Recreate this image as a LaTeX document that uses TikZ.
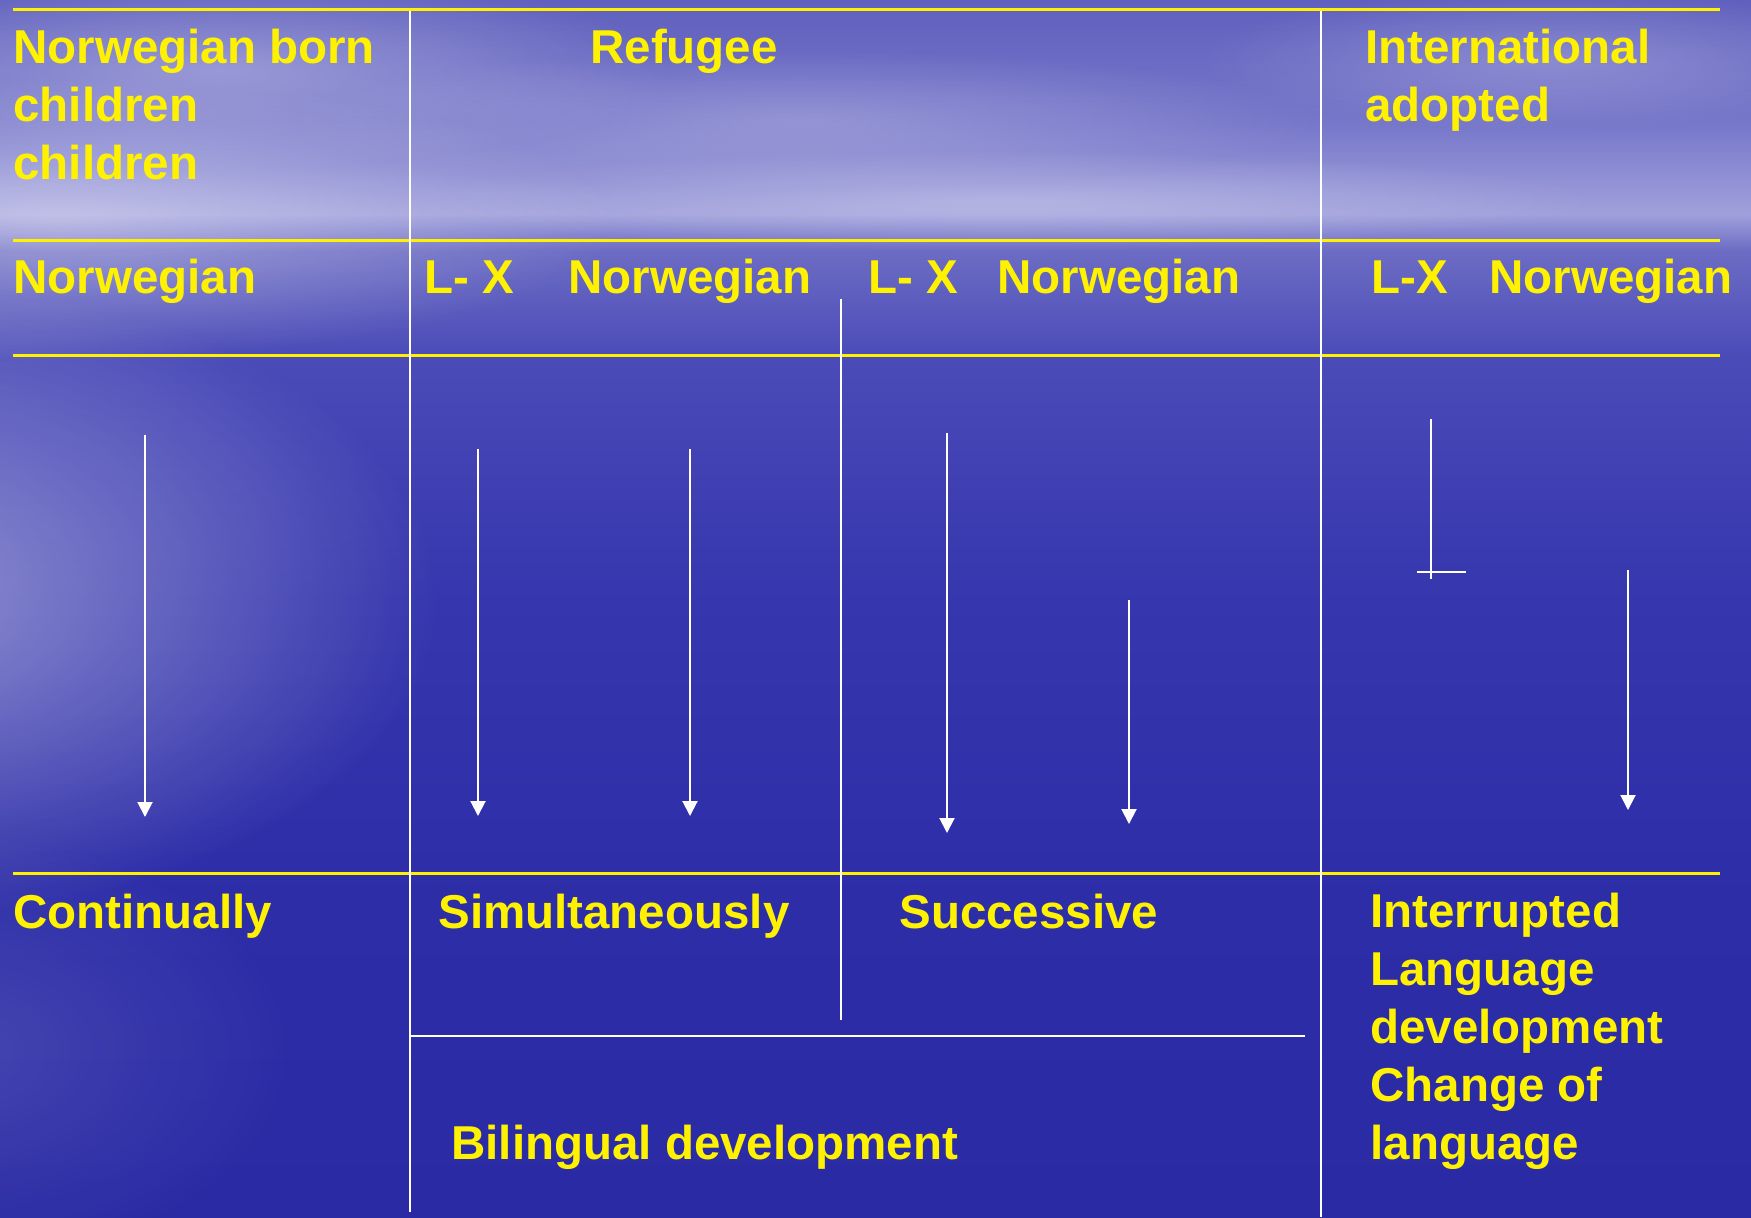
\documentclass[tikz,border=0pt]{standalone}
\usepackage{fontspec}
\setmainfont{Liberation Sans}
\usetikzlibrary{arrows.meta,fadings}
\definecolor{ctop}{RGB}{96,96,190}
\definecolor{c120}{RGB}{118,118,202}
\definecolor{haze}{RGB}{160,160,220}
\definecolor{c250}{RGB}{108,108,196}
\definecolor{c360}{RGB}{74,74,184}
\definecolor{c600}{RGB}{54,54,174}
\definecolor{c900}{RGB}{45,45,168}
\definecolor{deep}{RGB}{42,42,164}
\pgfdeclareverticalshading{sky}{100bp}{color(0bp)=(deep); color(25bp)=(deep); color(38bp)=(c900); color(50.35bp)=(c600); color(60.2bp)=(c360); color(64.7bp)=(c250); color(66.2bp)=(haze); color(70bp)=(c120); color(75bp)=(ctop); color(100bp)=(ctop)}
\tikzfading[name=softglow, inner color=transparent!0, outer color=transparent!100]
\tikzset{
  ylw/.style={draw=yellow, line width=1.5pt},
  wl/.style={draw=white, line width=1pt},
  arr/.style={wl, -{Triangle[width=7.5pt,length=7.5pt]}},
  lab/.style={text=yellow, font=\bfseries\fontsize{23.75}{29}\selectfont, inner sep=0pt, anchor=base west, align=left},
  glow/.style={fill=white, path fading=softglow}
}
\begin{document}
\begin{tikzpicture}[x=0.5pt,y=-0.5pt]
\useasboundingbox (0,0) rectangle (1751,1217);
% background
\fill[shading=sky] (0,0) rectangle (1751,1217);
\begin{scope}
\clip (0,0) rectangle (1751,1217);
\fill[glow, opacity=0.45] (-120,600) ellipse (560 and 320);
\fill[glow, opacity=0.35] (60,220) ellipse (560 and 140);
\fill[glow, opacity=0.30] (220,70) ellipse (450 and 100);
\fill[glow, opacity=0.22] (800,120) ellipse (520 and 70);
\fill[glow, opacity=0.25] (1000,200) ellipse (600 and 50);
\fill[glow, opacity=0.22] (1550,60) ellipse (350 and 70);
\fill[glow, opacity=0.12] (-50,1050) ellipse (350 and 220);
\end{scope}
% yellow rules
\draw[ylw] (13,9) -- (1720,9);
\draw[ylw] (13,240) -- (1720,240);
\draw[ylw] (13,355) -- (1720,355);
\draw[ylw] (13,873) -- (1720,873);
% white column lines
\draw[wl] (410,11) -- (410,1212);
\draw[wl] (1321,11) -- (1321,1217);
\draw[wl] (841,299) -- (841,1020);
\draw[wl] (410,1036) -- (1305,1036);
% arrows
\coordinate (a1s) at (145,435); \coordinate (a1e) at (145,817);
\coordinate (a2s) at (478,449); \coordinate (a2e) at (478,816);
\coordinate (a3s) at (690,449); \coordinate (a3e) at (690,816);
\coordinate (a4s) at (947,433); \coordinate (a4e) at (947,833);
\coordinate (a5s) at (1129,600); \coordinate (a5e) at (1129,824);
\coordinate (a6s) at (1628,570); \coordinate (a6e) at (1628,810);
\coordinate (is) at (1431,419); \coordinate (ie) at (1431,579);
\coordinate (il) at (1417,572); \coordinate (ir) at (1466,572);
\draw[arr] (a1s) -- (a1e);
\draw[arr] (a2s) -- (a2e);
\draw[arr] (a3s) -- (a3e);
\draw[arr] (a4s) -- (a4e);
\draw[arr] (a5s) -- (a5e);
\draw[arr] (a6s) -- (a6e);
\draw[wl] (is) -- (ie);
\draw[wl] (il) -- (ir);
% header texts (base = last line)
\node[lab] (nbc) at (13,179) {Norwegian born\\children\\children};
\node[lab] (ref) at (590,63) {Refugee};
\node[lab] (ina) at (1365,121) {International\\adopted};
% row 2
\node[lab] (n1) at (13,293) {Norwegian};
\node[lab] (lx1) at (424,293) {L- X};
\node[lab] (n2) at (568,293) {Norwegian};
\node[lab] (lx2) at (868,293) {L- X};
\node[lab] (n3) at (997,293) {Norwegian};
\node[lab] (lx3) at (1371,293) {L-X};
\node[lab] (n4) at (1489,293) {Norwegian};
% bottom
\node[lab] (con) at (13,928) {Continually};
\node[lab] (sim) at (438,928) {Simultaneously};
\node[lab] (suc) at (899,928) {Successive};
\node[lab] (int) at (1370,1159) {Interrupted\\Language\\development\\Change of\\language};
\node[lab] (bil) at (451,1159) {Bilingual development};
\end{tikzpicture}
\end{document}
